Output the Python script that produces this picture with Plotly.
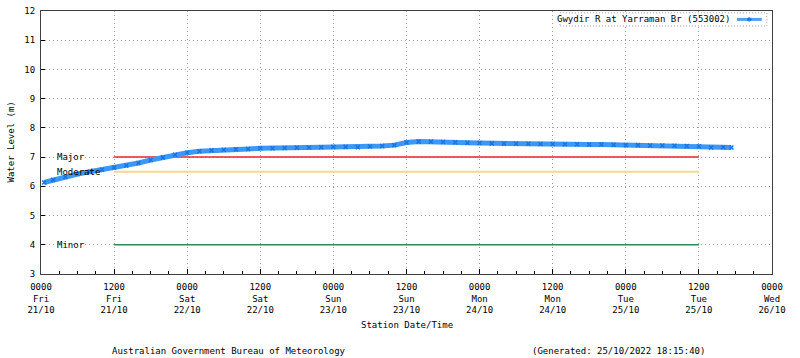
import pandas as pd
import plotly.graph_objects as go

# ---- data ----
times = [
    "2022-10-21 00:30", "2022-10-21 02:00", "2022-10-21 04:00", "2022-10-21 06:00",
    "2022-10-21 08:00", "2022-10-21 10:00", "2022-10-21 12:00", "2022-10-21 14:00",
    "2022-10-21 16:00", "2022-10-21 18:00", "2022-10-21 20:00", "2022-10-21 22:00",
    "2022-10-22 00:00", "2022-10-22 02:00", "2022-10-22 04:00", "2022-10-22 06:00",
    "2022-10-22 08:00", "2022-10-22 10:00", "2022-10-22 12:00", "2022-10-22 14:00",
    "2022-10-22 16:00", "2022-10-22 18:00", "2022-10-22 20:00", "2022-10-22 22:00",
    "2022-10-23 00:00", "2022-10-23 02:00", "2022-10-23 04:00", "2022-10-23 06:00",
    "2022-10-23 08:00", "2022-10-23 10:00", "2022-10-23 12:00", "2022-10-23 14:00",
    "2022-10-23 16:00", "2022-10-23 18:00", "2022-10-23 20:00", "2022-10-23 22:00",
    "2022-10-24 00:00", "2022-10-24 02:00", "2022-10-24 04:00", "2022-10-24 06:00",
    "2022-10-24 08:00", "2022-10-24 10:00", "2022-10-24 12:00", "2022-10-24 14:00",
    "2022-10-24 16:00", "2022-10-24 18:00", "2022-10-24 20:00", "2022-10-24 22:00",
    "2022-10-25 00:00", "2022-10-25 02:00", "2022-10-25 04:00", "2022-10-25 06:00",
    "2022-10-25 08:00", "2022-10-25 10:00", "2022-10-25 12:00", "2022-10-25 14:00",
    "2022-10-25 16:00", "2022-10-25 17:20",
]
levels = [
    6.13, 6.22, 6.32, 6.42, 6.50, 6.57, 6.64, 6.71, 6.80, 6.90, 6.99, 7.08,
    7.15, 7.20, 7.23, 7.25, 7.27, 7.28, 7.30, 7.30, 7.31, 7.32, 7.33, 7.34,
    7.35, 7.35, 7.34, 7.36, 7.38, 7.41, 7.50, 7.53, 7.53, 7.52, 7.51, 7.49,
    7.48, 7.47, 7.46, 7.46, 7.46, 7.45, 7.45, 7.44, 7.44, 7.43, 7.43, 7.42,
    7.41, 7.41, 7.40, 7.40, 7.39, 7.38, 7.37, 7.33, 7.34, 7.33,
]
series_name = "Gwydir R at Yarraman Br (553002)"

threshold_names = ["Major", "Moderate", "Minor"]
threshold_levels = [7.0, 6.5, 4.0]
threshold_colors = ["#e8262a", "#f8d68a", "#2e8b57"]
threshold_start = "2022-10-21 12:00"
threshold_end = "2022-10-25 12:00"
threshold_label_time = "2022-10-21 02:20"

x_start = "2022-10-21 00:00"
x_end = "2022-10-26 00:00"
y_min, y_max = 3, 12

tick_times = pd.date_range(x_start, x_end, freq="12h")
tick_text = [t.strftime("%H%M<br>%a<br>%d/%m") for t in tick_times]

FONT = "DejaVu Sans Mono"
FS = 9

fig = go.Figure()

for name, lvl, col in zip(threshold_names, threshold_levels, threshold_colors):
    fig.add_trace(go.Scatter(
        x=[threshold_start, threshold_end], y=[lvl, lvl], mode="lines",
        line=dict(color=col, width=1.5 if name != "Moderate" else 2),
        showlegend=False, hoverinfo="skip"))
    fig.add_annotation(x=threshold_label_time, y=lvl, text=name, showarrow=False,
                       xanchor="left", yanchor="middle",
                       font=dict(family=FONT, size=FS, color="#000000"))

fig.add_trace(go.Scatter(
    x=times, y=levels, mode="lines+markers", name=series_name,
    line=dict(color="#3d97f4", width=5),
    marker=dict(size=4, color="#1577e6", symbol="x-thin", line=dict(width=1.5, color="#1577e6")),
    showlegend=False))

axis_common = dict(
    showline=True, linecolor="#404040", linewidth=1, mirror=True,
    showgrid=True, gridcolor="#a0a0a0", griddash="1px,3px", gridwidth=1,
    zeroline=False, ticks="inside", tickcolor="#000000", automargin=False,
    tickfont=dict(family=FONT, size=FS, color="#000000"),
)

fig.update_xaxes(
    type="date", range=[x_start, x_end],
    tickmode="array", tickvals=tick_times, ticktext=tick_text, ticklen=5,
    minor=dict(dtick=3 * 3600000, ticks="inside", ticklen=3, tickcolor="#000000", showgrid=False),
    ticklabelstandoff=4,
    **axis_common)
fig.update_yaxes(
    range=[y_min, y_max], dtick=1, ticklen=4, ticklabelstandoff=3,
    ticklabeloverflow="allow",
    **axis_common)

# custom legend (text then line sample, as in the reference)
fig.add_shape(type="rect", xref="paper", yref="paper", x0=0.710, x1=0.993, y0=0.943, y1=0.993,
              line=dict(color="#a0a0a0", width=1, dash="1px,2px"), fillcolor="white", layer="above")
fig.add_annotation(xref="paper", yref="paper", x=0.945, y=0.968, text=series_name,
                   showarrow=False, xanchor="right", yanchor="middle",
                   font=dict(family=FONT, size=FS, color="#000000"))
fig.add_shape(type="line", xref="paper", yref="paper", x0=0.952, x1=0.986, y0=0.968, y1=0.968,
              line=dict(color="#4da3f7", width=3), layer="above")
fig.add_shape(type="circle", xref="paper", yref="paper", x0=0.9665, x1=0.9715, y0=0.962, y1=0.974,
              line=dict(color="#1a7ae8", width=1), fillcolor="#1a7ae8", layer="above")

# axis titles and footer
fig.add_annotation(xref="paper", yref="paper", x=0, y=0.5, xshift=-31, text="Water Level (m)",
                   textangle=-90, showarrow=False, xanchor="center", yanchor="middle",
                   font=dict(family=FONT, size=FS, color="#000000"))
fig.add_annotation(xref="paper", yref="paper", x=0.5, y=0, yshift=-51, text="Station Date/Time",
                   showarrow=False, xanchor="center", yanchor="middle",
                   font=dict(family=FONT, size=FS, color="#000000"))
fig.add_annotation(xref="paper", yref="paper", x=0, y=0, xshift=69, yshift=-77,
                   text="Australian Government Bureau of Meteorology",
                   showarrow=False, xanchor="left", yanchor="middle",
                   font=dict(family=FONT, size=FS, color="#000000"))
fig.add_annotation(xref="paper", yref="paper", x=0, y=0, xshift=489, yshift=-77,
                   text="(Generated: 25/10/2022 18:15:40)",
                   showarrow=False, xanchor="left", yanchor="middle",
                   font=dict(family=FONT, size=FS, color="#000000"))

fig.update_layout(
    width=800, height=358,
    margin=dict(l=41, r=28, t=11, b=84, autoexpand=False),
    paper_bgcolor="white", plot_bgcolor="white",
    showlegend=False,
    font=dict(family=FONT, size=FS, color="#000000"),
)

# remove the browser's default 8px body margin so the figure fills the window
fig.write_html("out.html", config={"displayModeBar": False},
               post_script="document.body.style.margin='0';")
